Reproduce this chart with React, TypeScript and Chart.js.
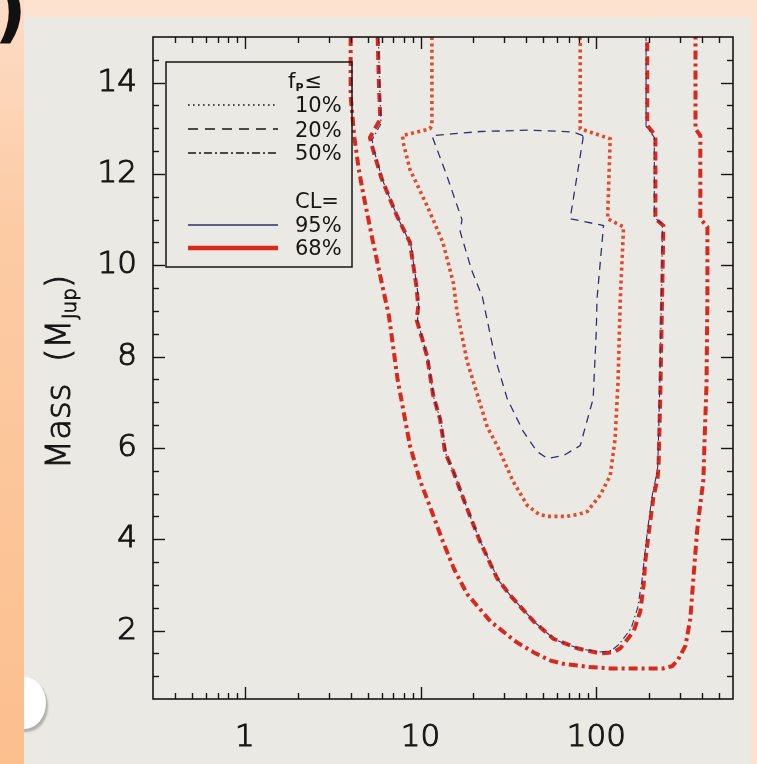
import React, { useEffect, useRef } from 'react';
import { Chart, registerables } from 'chart.js';

Chart.register(...registerables);

// ---- contour data: [period (yr, log x), mass (M_Jup)] ----
// fp <= 50%, CL = 68% (red dash-dot, outer)
const c50cl68: [number, number][] = [
  [4.0, 15.0], [4.0, 13.7], [4.2, 12.8], [4.45, 12.1], [4.7, 11.6], [5.3, 10.6], [6.1, 9.5],
  [6.6, 8.9], [7.4, 7.5], [8.7, 6.05], [9.9, 5.3], [11.6, 4.6], [13.4, 3.95], [15.5, 3.35],
  [18.4, 2.8], [25, 2.2], [35, 1.75], [45, 1.5], [55, 1.34], [65, 1.27], [92, 1.2], [120, 1.17],
  [240, 1.17], [270, 1.22], [290, 1.34], [322, 1.67], [343, 2.26], [357, 3.14], [370, 3.9],
  [376, 4.23], [395, 4.9], [407, 5.3], [412, 6.0], [424, 7.4], [429, 9.3], [429, 10.84],
  [391, 11.02], [391, 12.84], [367, 12.99], [367, 15.0],
];
// fp <= 20%, CL = 68% (red dashed)
const c20cl68: [number, number][] = [
  [5.7, 15.0], [5.8, 13.9], [5.9, 13.2], [5.15, 12.8], [5.3, 12.6], [6.0, 11.9], [7.3, 11.1],
  [8.7, 10.5], [9.5, 9.5], [9.7, 9.1], [9.5, 8.8], [10.2, 8.4], [10.9, 8.0], [11.8, 7.15],
  [12.9, 6.64], [13.8, 5.9], [15.3, 5.5], [18.4, 4.67], [21.8, 3.95], [27.3, 3.14], [32.4, 2.77],
  [44, 2.2], [57, 1.82], [78, 1.61], [105, 1.5], [125, 1.52], [137, 1.61], [163, 1.98],
  [178, 2.42], [186, 3.0], [190, 3.51], [198, 4.08], [211, 4.9], [223, 5.33], [226, 5.55],
  [232, 7.36], [238, 9.71], [241, 10.87], [217, 11.02], [217, 12.84], [195, 13.06], [195, 15.0],
];
// fp <= 50%, CL = 95% (navy thin dash-dot)
const c50cl95: [number, number][] = [
  [5.75, 15.0], [5.85, 13.9], [5.95, 13.1], [5.3, 12.75], [5.4, 12.55], [6.1, 11.85], [7.4, 11.05],
  [8.8, 10.45], [9.6, 9.45], [9.75, 9.05], [9.6, 8.8], [10.3, 8.35], [11.0, 7.95], [11.9, 7.1],
  [13.0, 6.6], [14.0, 5.85], [15.5, 5.45], [18.6, 4.62], [22.2, 3.9], [27.8, 3.1], [33, 2.73],
  [45, 2.17], [58, 1.8], [80, 1.6], [105, 1.53], [122, 1.56], [135, 1.7], [158, 2.05],
  [172, 2.5], [182, 3.1], [188, 3.6], [195, 4.15], [208, 4.95], [220, 5.4], [224, 5.6],
  [230, 7.4], [236, 9.7], [238, 10.9], [214, 11.05], [214, 12.8], [192, 13.05], [192, 15.0],
];
// fp <= 10%, CL = 68% (red dotted)
const c10cl68: [number, number][] = [
  [11.6, 15.0], [11.6, 13.06], [11.3, 12.99], [7.9, 12.84], [7.95, 12.7], [8.7, 12.1],
  [10.9, 11.3], [13.4, 10.5], [15.4, 9.6], [16.1, 9.0], [18.4, 7.9], [21.3, 7.1], [24, 6.45],
  [27.3, 6.05], [33.7, 5.26], [40.5, 4.74], [47, 4.55], [52.6, 4.5], [68, 4.5], [80, 4.55],
  [89, 4.61], [105, 4.96], [120, 5.39], [128, 6.2], [133, 7.45], [137, 9.27], [143, 10.84],
  [116, 11.02], [120, 12.77], [81, 12.99], [81, 15.0],
];
// fp <= 20%, CL = 95% (navy thin dashed)
const c20cl95: [number, number][] = [
  [84, 12.84], [74, 12.92], [42, 12.96], [22, 12.93], [11.6, 12.84], [14, 12.0], [17.2, 11.0],
  [16.8, 10.74], [19.5, 9.9], [22.5, 9.3], [26.6, 7.96], [31.1, 7.08], [38.4, 6.36], [46, 5.92],
  [52.6, 5.77], [65, 5.83], [81, 6.05], [96, 7.08], [100, 8.55], [101, 9.27], [110, 10.87],
  [71, 11.02], [84, 12.77], [84, 12.84],
];

// ---- axes ----
const xMin = 0.3;
const xMax = 600;
const yMin = 0.5;
const yMax = 15;
const xMajorTicks = [1, 10, 100];
const xTickLabels = ['1', '10', '100'];
const xMinorTicks = [0.4, 0.5, 0.6, 0.7, 0.8, 0.9, 2, 3, 4, 5, 6, 7, 8, 9, 20, 30, 40, 50, 60, 70, 80, 90, 200, 300, 400, 500];
const yMajorTicks = [2, 4, 6, 8, 10, 12, 14];
const yTickLabels = ['2', '4', '6', '8', '10', '12', '14'];
const yMinorTicks = [1, 1.5, 2.5, 3, 3.5, 4.5, 5, 5.5, 6.5, 7, 7.5, 8.5, 9, 9.5, 10.5, 11, 11.5, 12.5, 13, 13.5, 14.5];

// ---- legend ----
const legendStyleRows = ['10%', '20%', '50%'];
const legendCLRows = ['95%', '68%'];

const FONT = "'DejaVu Sans', 'Liberation Sans', Arial, sans-serif";
const RED = '#d8291f';
const RED_DOT = '#e3492b';
const NAVY = '#2d3170';
const INK = '#161616';

export default function App() {
  const ref = useRef<HTMLCanvasElement>(null);

  useEffect(() => {
    const canvas = ref.current!;
    const pts = (a: [number, number][]) => a.map(([x, y]) => ({ x, y }));

    const framePlugin = {
      id: 'frameTicksLegend',
      afterDatasetsDraw(chart: any) {
        const { ctx, chartArea: ca, scales } = chart;
        const xs = scales.x;
        const ys = scales.y;
        ctx.save();
        ctx.strokeStyle = INK;
        ctx.lineWidth = 1.6;
        ctx.setLineDash([]);
        ctx.strokeRect(ca.left, ca.top, ca.right - ca.left, ca.bottom - ca.top);

        const line = (x1: number, y1: number, x2: number, y2: number) => {
          ctx.beginPath();
          ctx.moveTo(x1, y1);
          ctx.lineTo(x2, y2);
          ctx.stroke();
        };
        ctx.lineWidth = 1.4;
        const xt = (vals: number[], len: number) => {
          vals.forEach((v) => {
            const px = Math.round(xs.getPixelForValue(v)) + 0.5;
            line(px, ca.bottom, px, ca.bottom - len);
            line(px, ca.top, px, ca.top + len);
          });
        };
        const yt = (vals: number[], len: number) => {
          vals.forEach((v) => {
            const py = Math.round(ys.getPixelForValue(v)) + 0.5;
            line(ca.left, py, ca.left + len, py);
            line(ca.right, py, ca.right - len, py);
          });
        };
        xt(xMajorTicks, 12);
        xt(xMinorTicks, 6);
        yt(yMajorTicks, 12);
        yt(yMinorTicks, 6);

        // legend box
        const bx = ca.left + 13;
        const by = ca.top + 25;
        const bw = 186;
        const bh = 205;
        ctx.lineWidth = 1.5;
        ctx.strokeStyle = INK;
        ctx.strokeRect(bx, by, bw, bh);

        const tx = bx + 129;
        const sx1 = bx + 22;
        const sx2 = bx + 112;
        ctx.fillStyle = INK;
        ctx.textAlign = 'left';
        ctx.textBaseline = 'alphabetic';

        // header f_P <=
        ctx.font = `21px ${FONT}`;
        ctx.fillText('f', tx - 7, by + 26);
        const fw = ctx.measureText('f').width;
        ctx.font = `bold 11px ${FONT}`;
        ctx.fillText('P', tx - 7 + fw, by + 29);
        const pw = ctx.measureText('P').width;
        ctx.font = `21px ${FONT}`;
        ctx.fillText('≤', tx - 7 + fw + pw + 1, by + 26);

        const styleBase = [50, 75, 98];
        const styleLineY = [43, 67, 91];
        const dashes = [[1.6, 3.4], [10, 7], [8, 3, 2, 3]];
        legendStyleRows.forEach((t, i) => {
          ctx.font = `21px ${FONT}`;
          ctx.fillText(t, tx, by + styleBase[i]);
          ctx.strokeStyle = INK;
          ctx.lineWidth = 1.6;
          ctx.setLineDash(dashes[i]);
          line(sx1, by + styleLineY[i], sx2, by + styleLineY[i]);
        });
        ctx.setLineDash([]);
        ctx.font = `21px ${FONT}`;
        ctx.fillText('CL=', tx, by + 146);
        const clBase = [170, 193];
        const clLineY = [163, 186];
        const clColors = [NAVY, RED];
        const clWidths = [1.5, 4.5];
        legendCLRows.forEach((t, i) => {
          ctx.fillStyle = INK;
          ctx.fillText(t, tx, by + clBase[i]);
          ctx.strokeStyle = clColors[i];
          ctx.lineWidth = clWidths[i];
          line(sx1, by + clLineY[i], sx2, by + clLineY[i]);
        });

        // y-axis title with subscript
        ctx.save();
        ctx.translate(70, 372);
        ctx.rotate(-Math.PI / 2);
        ctx.fillStyle = INK;
        ctx.strokeStyle = INK;
        ctx.lineWidth = 1;
        const txt = (s: string, f: string, x: number, y: number) => {
          ctx.font = f;
          ctx.fillText(s, x, y);
          ctx.strokeText(s, x, y);
        };
        const big = `200 34px ${FONT}`;
        const small = `200 20px ${FONT}`;
        ctx.font = big;
        const w1 = ctx.measureText('Mass  (M').width;
        const w3 = ctx.measureText(')').width;
        ctx.font = small;
        const w2 = ctx.measureText('Jup').width;
        let cx = -(w1 + w2 + w3) / 2;
        txt('Mass  (M', big, cx, 0);
        cx += w1;
        txt('Jup', small, cx, 6);
        cx += w2;
        txt(')', big, cx, 0);
        ctx.restore();

        ctx.restore();
      },
    };

    const tickFont = { family: FONT, size: 31, weight: '200' };

    const chart = new Chart(canvas, {
      type: 'scatter',
      data: {
        datasets: [
          {
            label: 'fp<=50% CL=95%',
            data: pts(c50cl95),
            showLine: true,
            borderColor: NAVY,
            borderWidth: 1.1,
            borderDash: [7, 3, 1.5, 3],
            pointRadius: 0,
            fill: false,
            order: 0,
          },
          {
            label: 'fp<=20% CL=95%',
            data: pts(c20cl95),
            showLine: true,
            borderColor: NAVY,
            borderWidth: 1.3,
            borderDash: [8, 6],
            pointRadius: 0,
            fill: false,
            order: 1,
          },
          {
            label: 'fp<=20% CL=68%',
            data: pts(c20cl68),
            showLine: true,
            borderColor: RED,
            borderWidth: 4,
            borderDash: [9, 5],
            pointRadius: 0,
            fill: false,
            order: 2,
          },
          {
            label: 'fp<=50% CL=68%',
            data: pts(c50cl68),
            showLine: true,
            borderColor: RED,
            borderWidth: 4,
            borderDash: [9, 4, 3, 4],
            pointRadius: 0,
            fill: false,
            order: 3,
          },
          {
            label: 'fp<=10% CL=68%',
            data: pts(c10cl68),
            showLine: true,
            borderColor: RED_DOT,
            borderWidth: 3.6,
            borderDash: [3, 3.4],
            pointRadius: 0,
            fill: false,
            order: 4,
          },
        ],
      },
      options: {
        responsive: false,
        animation: false,
        maintainAspectRatio: false,
        layout: { padding: { left: 0, top: 37, right: 24, bottom: 0 } },
        plugins: {
          legend: { display: false },
          tooltip: { enabled: false },
          title: { display: false },
        },
        scales: {
          x: {
            type: 'logarithmic',
            min: xMin,
            max: xMax,
            grid: { display: false, drawTicks: false },
            border: { display: false },
            afterBuildTicks: (s: any) => {
              s.ticks = xMajorTicks.map((v) => ({ value: v }));
            },
            afterFit: (s: any) => {
              s.height = 65;
            },
            ticks: {
              autoSkip: false,
              maxRotation: 0,
              minRotation: 0,
              padding: 20,
              color: INK,
              textStrokeColor: INK,
              textStrokeWidth: 1.1,
              font: tickFont,
              callback: (v: any) => {
                const i = xMajorTicks.indexOf(Number(v));
                return i >= 0 ? xTickLabels[i] : '';
              },
            },
          },
          y: {
            type: 'linear',
            min: yMin,
            max: yMax,
            grid: { display: false, drawTicks: false },
            border: { display: false },
            afterBuildTicks: (s: any) => {
              s.ticks = yMajorTicks.map((v) => ({ value: v }));
            },
            afterFit: (s: any) => {
              s.width = 153;
            },
            ticks: {
              autoSkip: false,
              padding: 16,
              color: INK,
              textStrokeColor: INK,
              textStrokeWidth: 1.1,
              font: tickFont,
              callback: (v: any) => {
                const i = yMajorTicks.indexOf(Number(v));
                return i >= 0 ? yTickLabels[i] : '';
              },
            },
          },
        },
      },
      plugins: [framePlugin],
    } as any);

    return () => chart.destroy();
  }, []);

  return (
    <div
      style={{
        position: 'fixed',
        left: 0,
        top: 0,
        width: 757,
        height: 764,
        overflow: 'hidden',
        background: '#fde2cf',
      }}
    >
      <div
        style={{
          position: 'absolute',
          left: 0,
          top: 0,
          width: 24,
          height: 764,
          background: 'linear-gradient(180deg, #fddcc6 0%, #fccba4 30%, #fcbf8e 100%)',
        }}
      />
      <div
        style={{
          position: 'absolute',
          left: 24,
          top: 17,
          width: 727,
          height: 747,
          background: '#ebe9e3',
          overflow: 'hidden',
        }}
      >
        <div
          style={{
            position: 'absolute',
            left: -22,
            top: 660,
            width: 44,
            height: 52,
            borderRadius: '50%',
            background: '#ffffff',
            boxShadow: '2px 3px 2px rgba(120,120,120,0.5)',
          }}
        />
      </div>
      <div
        style={{
          position: 'absolute',
          left: -6,
          top: -27,
          fontFamily: FONT,
          fontSize: 72,
          fontWeight: 'bold',
          lineHeight: 1,
          color: '#111',
        }}
      >
        )
      </div>
      <canvas
        ref={ref}
        width={757}
        height={764}
        style={{ position: 'absolute', left: 0, top: 0, width: 757, height: 764 }}
      />
    </div>
  );
}
